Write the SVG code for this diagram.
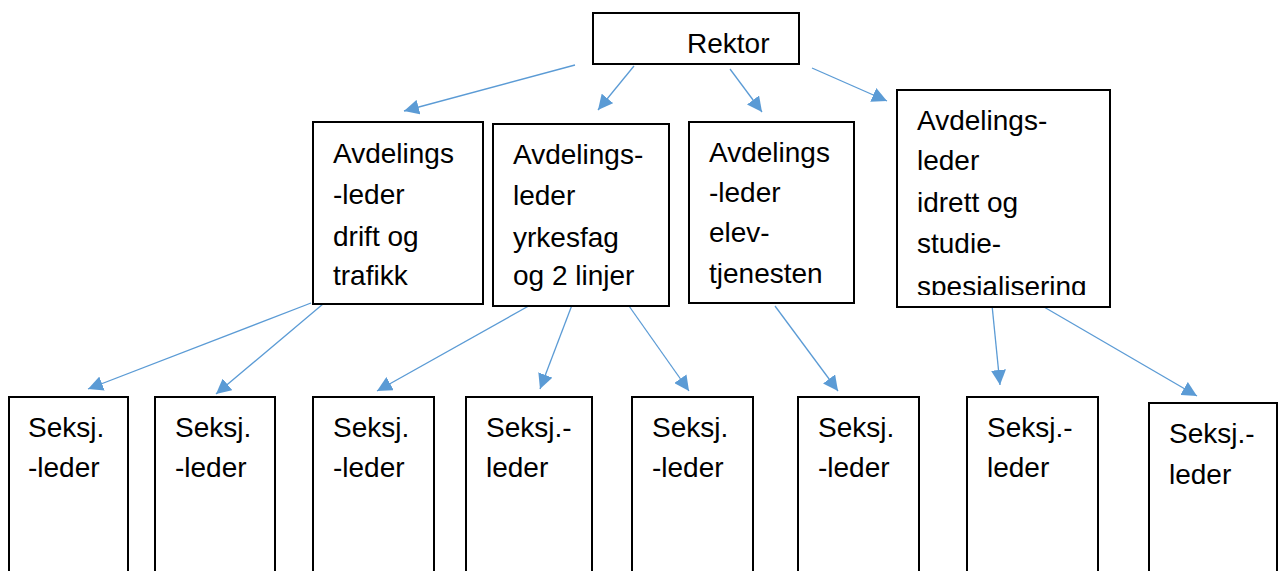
<svg xmlns="http://www.w3.org/2000/svg" width="1279" height="571" viewBox="0 0 1279 571">
<style>
.box{fill:#fff;stroke:#000;stroke-width:2}
.t{font-family:"Liberation Sans",Arial,sans-serif;font-size:28px;fill:#000}
.c{stroke:#5B9BD5;stroke-width:1.3;fill:none;marker-end:url(#ah)}
</style>
<defs>
<marker id="ah" viewBox="0 0 10 10" refX="10" refY="5" markerUnits="userSpaceOnUse" markerWidth="15" markerHeight="15" orient="auto">
<path d="M0,0 L10,5 L0,10 z" fill="#5B9BD5"/>
</marker>
<clipPath id="clip4"><rect x="897" y="90" width="213" height="205"/></clipPath>
</defs>
<rect width="1279" height="571" fill="#fff"/>
<g id="connectors">
<line class="c" x1="575" y1="65" x2="404" y2="111"/>
<line class="c" x1="634" y1="66" x2="598" y2="110"/>
<line class="c" x1="730" y1="69" x2="762" y2="112"/>
<line class="c" x1="812" y1="68" x2="887" y2="101"/>
<line class="c" x1="311" y1="303" x2="88" y2="389"/>
<line class="c" x1="323" y1="304" x2="216" y2="394"/>
<line class="c" x1="534" y1="303" x2="377" y2="391"/>
<line class="c" x1="572" y1="305" x2="540" y2="389"/>
<line class="c" x1="629" y1="306" x2="689" y2="391"/>
<line class="c" x1="775" y1="306" x2="838" y2="391"/>
<line class="c" x1="992" y1="305" x2="1000" y2="385"/>
<line class="c" x1="1044" y1="307" x2="1197" y2="396"/>
</g>
<g id="rektor">
<rect class="box" x="593" y="13" width="206" height="51"/>
<text class="t" x="687" y="53">Rektor</text>
</g>
<g id="avd-drift">
<rect class="box" x="313" y="122" width="170" height="182"/>
<text class="t"><tspan x="333" y="163">Avdelings</tspan><tspan x="333" y="204">-leder</tspan><tspan x="333" y="246">drift og</tspan><tspan x="333" y="285">trafikk</tspan></text>
</g>
<g id="avd-yrkesfag">
<rect class="box" x="493" y="124" width="176" height="182"/>
<text class="t"><tspan x="513" y="164">Avdelings-</tspan><tspan x="513" y="205">leder</tspan><tspan x="513" y="247">yrkesfag</tspan><tspan x="513" y="285">og 2 linjer</tspan></text>
</g>
<g id="avd-elev">
<rect class="box" x="689" y="122" width="165" height="181"/>
<text class="t"><tspan x="709" y="162">Avdelings</tspan><tspan x="709" y="202">-leder</tspan><tspan x="709" y="242">elev-</tspan><tspan x="709" y="283">tjenesten</tspan></text>
</g>
<g id="avd-idrett">
<rect class="box" x="897" y="90" width="213" height="217"/>
<text class="t" clip-path="url(#clip4)"><tspan x="917" y="130">Avdelings-</tspan><tspan x="917" y="170">leder</tspan><tspan x="917" y="212">idrett og</tspan><tspan x="917" y="253">studie-</tspan><tspan x="917" y="296">spesialisering</tspan></text>
</g>
<g id="seksj1"><rect class="box" x="9" y="397" width="119" height="190"/><text class="t"><tspan x="28" y="437">Seksj.</tspan><tspan x="28" y="477">-leder</tspan></text></g>
<g id="seksj2"><rect class="box" x="155" y="397" width="120" height="190"/><text class="t"><tspan x="175" y="437">Seksj.</tspan><tspan x="175" y="477">-leder</tspan></text></g>
<g id="seksj3"><rect class="box" x="313" y="397" width="121" height="190"/><text class="t"><tspan x="333" y="437">Seksj.</tspan><tspan x="333" y="477">-leder</tspan></text></g>
<g id="seksj4"><rect class="box" x="466" y="397" width="126" height="190"/><text class="t"><tspan x="486" y="437">Seksj.-</tspan><tspan x="486" y="477">leder</tspan></text></g>
<g id="seksj5"><rect class="box" x="632" y="397" width="121" height="190"/><text class="t"><tspan x="652" y="437">Seksj.</tspan><tspan x="652" y="477">-leder</tspan></text></g>
<g id="seksj6"><rect class="box" x="798" y="397" width="121" height="190"/><text class="t"><tspan x="818" y="437">Seksj.</tspan><tspan x="818" y="477">-leder</tspan></text></g>
<g id="seksj7"><rect class="box" x="967" y="397" width="131" height="190"/><text class="t"><tspan x="987" y="437">Seksj.-</tspan><tspan x="987" y="477">leder</tspan></text></g>
<g id="seksj8"><rect class="box" x="1149" y="403" width="128" height="190"/><text class="t"><tspan x="1169" y="443">Seksj.-</tspan><tspan x="1169" y="484">leder</tspan></text></g>
</svg>
